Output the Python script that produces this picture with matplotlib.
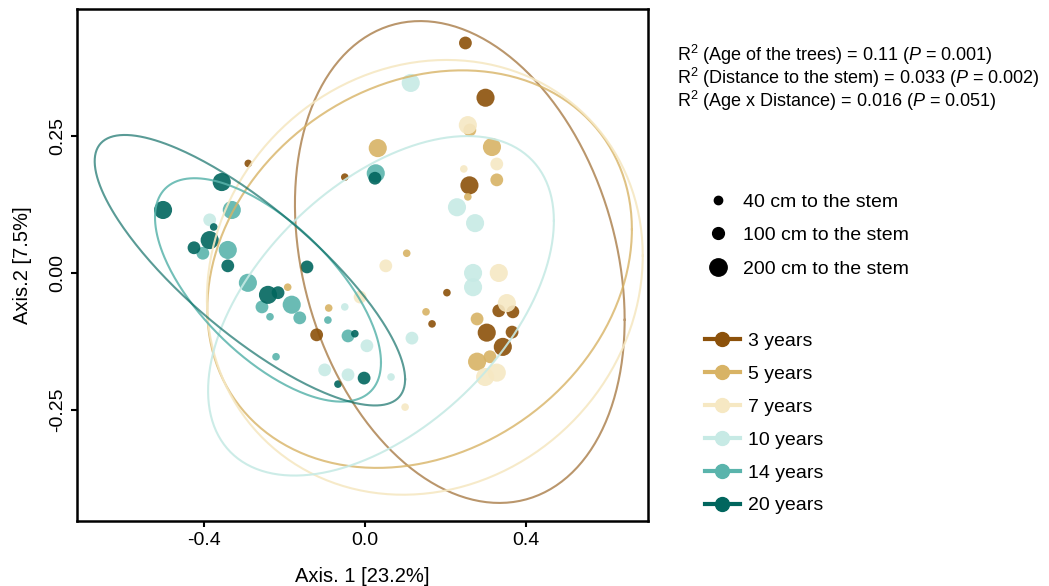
import matplotlib
matplotlib.use("Agg")
import matplotlib.pyplot as plt
import numpy as np
from matplotlib.lines import Line2D

plt.rcParams["font.family"] = ["Liberation Sans", "DejaVu Sans"]
plt.rcParams["mathtext.fontset"] = "custom"
plt.rcParams["mathtext.rm"] = "Liberation Sans"
plt.rcParams["mathtext.it"] = "Liberation Sans:italic"
plt.rcParams["axes.unicode_minus"] = False

ages = ["3 years", "5 years", "7 years", "10 years", "14 years", "20 years"]
ageColors = ["#8C510A", "#D8B365", "#F6E8C3", "#C7EAE5", "#5AB4AC", "#01665E"]
ellipseAlpha = [0.6, 0.8, 0.9, 0.9, 0.85, 0.65]

distances = ["40 cm to the stem", "100 cm to the stem", "200 cm to the stem"]
distSizes = {40: 30, 100: 85, 200: 170}

# PCoA scores per age: axis 1, axis 2, distance to the stem (cm)
ax1_3 = [0.25, 0.30, 0.26, -0.05, -0.29, -0.12, 0.204, 0.167, 0.333, 0.368, 0.303, 0.366, 0.343]
ax2_3 = [0.42, 0.32, 0.16, 0.175, 0.20, -0.113, -0.036, -0.093, -0.069, -0.071, -0.109, -0.108, -0.135]
dist_3 = [100, 200, 200, 40, 40, 100, 40, 40, 100, 100, 200, 100, 200]

ax1_5 = [0.032, 0.316, 0.328, 0.104, 0.256, 0.261, 0.152, -0.090, 0.279, 0.279, 0.311, -0.192]
ax2_5 = [0.228, 0.230, 0.170, 0.036, 0.139, 0.261, -0.071, -0.064, -0.084, -0.162, -0.153, -0.026]
dist_5 = [200, 200, 100, 40, 40, 100, 40, 40, 100, 200, 100, 40]

ax1_7 = [0.256, 0.328, 0.246, 0.052, 0.333, 0.328, 0.299, 0.100, -0.012, 0.353]
ax2_7 = [0.270, 0.199, 0.190, 0.013, 0.000, -0.182, -0.190, -0.245, -0.044, -0.055]
dist_7 = [200, 100, 40, 100, 200, 200, 200, 40, 100, 200]

ax1_10 = [0.114, 0.229, 0.274, 0.269, 0.269, -0.386, 0.117, 0.005, -0.050, -0.100, -0.042, 0.065]
ax2_10 = [0.347, 0.120, 0.091, 0.000, -0.026, 0.097, -0.119, -0.133, -0.062, -0.177, -0.186, -0.190]
dist_10 = [200, 200, 200, 200, 200, 100, 100, 100, 40, 100, 100, 40]

ax1_14 = [0.027, -0.331, -0.341, -0.403, -0.291, -0.256, -0.182, -0.162, -0.236, -0.092, -0.042, -0.221]
ax2_14 = [0.182, 0.115, 0.042, 0.036, -0.018, -0.062, -0.058, -0.082, -0.080, -0.086, -0.115, -0.153]
dist_14 = [200, 200, 200, 100, 200, 100, 200, 100, 40, 40, 100, 40]

ax1_20 = [-0.356, -0.502, -0.386, -0.425, -0.376, -0.341, -0.144, -0.241, -0.216, -0.025, -0.002, -0.067, 0.025]
ax2_20 = [0.166, 0.115, 0.060, 0.046, 0.084, 0.013, 0.011, -0.040, -0.036, -0.111, -0.192, -0.203, 0.173]
dist_20 = [200, 200, 200, 100, 40, 100, 100, 200, 100, 40, 100, 40, 100]

scores = [(ax1_3, ax2_3, dist_3), (ax1_5, ax2_5, dist_5), (ax1_7, ax2_7, dist_7),
          (ax1_10, ax2_10, dist_10), (ax1_14, ax2_14, dist_14), (ax1_20, ax2_20, dist_20)]

# 95% ellipses per age: centre, spread on each axis, correlation
ellCx = [0.236, 0.136, 0.149, 0.040, -0.241, -0.286]
ellCy = [0.020, 0.007, -0.008, -0.060, -0.031, 0.005]
ellSx = [0.410, 0.528, 0.542, 0.430, 0.281, 0.386]
ellSy = [0.440, 0.363, 0.397, 0.310, 0.204, 0.247]
ellRho = [-0.24, 0.20, 0.10, 0.50, -0.65, -0.806]

stats = [r"R$^2$ (Age of the trees) = 0.11 ($\mathit{P}$ = 0.001)",
         r"R$^2$ (Distance to the stem) = 0.033 ($\mathit{P}$ = 0.002)",
         r"R$^2$ (Age x Distance) = 0.016 ($\mathit{P}$ = 0.051)"]

fig = plt.figure(figsize=(10.49, 5.86), dpi=100)
ax = fig.add_axes([0.0734, 0.1109, 0.5443, 0.8737])

for (xs, ys, ds), col in zip(scores, ageColors):
    ax.scatter(xs, ys, s=[distSizes[d] for d in ds], color=col, alpha=0.9,
               linewidths=0, zorder=2)

t = np.linspace(0, 2*np.pi, 300)
for i, col in enumerate(ageColors):
    ex = ellCx[i] + ellSx[i]*np.cos(t)
    ey = ellCy[i] + ellSy[i]*(ellRho[i]*np.cos(t) + np.sqrt(1 - ellRho[i]**2)*np.sin(t))
    ax.plot(ex, ey, color=col, alpha=ellipseAlpha[i], lw=1.5, zorder=3)

ax.set_xlim(-0.716, 0.704)
ax.set_ylim(-0.453, 0.482)
ax.set_xticks([-0.4, 0.0, 0.4])
ax.set_xticklabels(["-0.4", "0.0", "0.4"])
ax.set_yticks([-0.25, 0.0, 0.25])
ax.set_yticklabels(["-0.25", "0.00", "0.25"], rotation=90, va="center")
ax.tick_params(labelsize=14, length=4, width=1.5, color="black", pad=4)
for sp in ax.spines.values():
    sp.set_linewidth(1.8)
ax.set_xlabel("Axis. 1 [23.2%]", fontsize=14.5, labelpad=13)
ax.set_ylabel("Axis.2 [7.5%]", fontsize=14.5, labelpad=12)

for i, s in enumerate(stats):
    fig.text(0.645, 0.907 - i*0.040, s, fontsize=13, va="center", ha="left")

sizeHandles = [Line2D([], [], marker="o", ls="", color="black", markersize=m)
               for m in (6, 8.5, 12.5)]
leg1 = fig.legend(sizeHandles, distances, loc="upper left", bbox_to_anchor=(0.675, 0.6706),
                  frameon=False, fontsize=14, handlelength=1.0, handletextpad=0.8,
                  labelspacing=0.82, borderpad=0, borderaxespad=0)

ageHandles = [Line2D([], [], marker="o", color=c, lw=3, markersize=10) for c in ageColors]
leg2 = fig.legend(ageHandles, ages, loc="upper left", bbox_to_anchor=(0.672, 0.4334),
                  frameon=False, fontsize=14, handlelength=1.8, handletextpad=0.41,
                  labelspacing=0.79, borderpad=0, borderaxespad=0)

fig.savefig("out.png", dpi=100)
